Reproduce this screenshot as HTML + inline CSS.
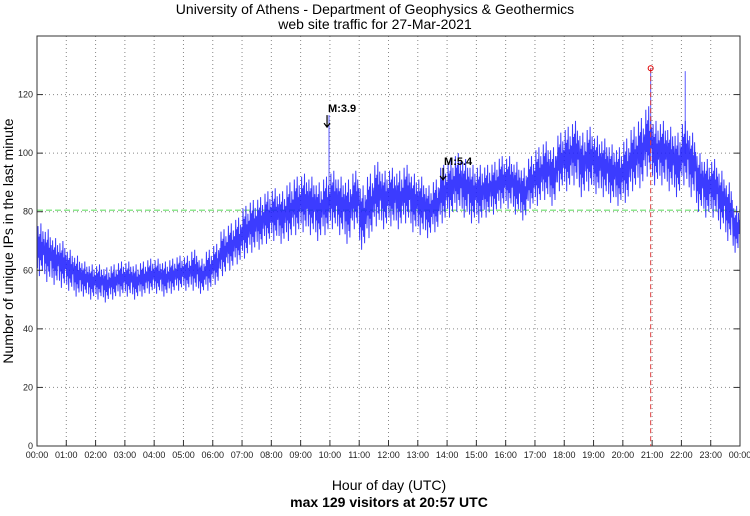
<!DOCTYPE html>
<html><head><meta charset="utf-8"><style>
body{margin:0;background:#fff;width:750px;height:511px;overflow:hidden;font-family:"Liberation Sans",sans-serif}
</style></head><body>
<svg id="chart" width="750" height="511" xmlns="http://www.w3.org/2000/svg" font-family="Liberation Sans, sans-serif">
<text x="375" y="14" text-anchor="middle" font-size="14">University of Athens - Department of Geophysics &amp; Geothermics</text>
<text x="375" y="29" text-anchor="middle" font-size="14">web site traffic for 27-Mar-2021</text>
<text transform="translate(13,241) rotate(-90)" text-anchor="middle" font-size="14">Number of unique IPs in the last minute</text>
<text x="389" y="490" text-anchor="middle" font-size="14">Hour of day (UTC)</text>
<text x="389" y="507" text-anchor="middle" font-size="14" font-weight="bold">max 129 visitors at 20:57 UTC</text>
<g id="grid"></g><g id="series"></g><g id="axes"></g><g id="marks"></g>
</svg>
<script>
const hours=["00:00","01:00","02:00","03:00","04:00","05:00","06:00","07:00","08:00","09:00","10:00","11:00","12:00","13:00","14:00","15:00","16:00","17:00","18:00","19:00","20:00","21:00","22:00","23:00","00:00"];
const yTicks=[0,20,40,60,80,100,120];
const quarterMeans=[67,65,63,62,60,58,57,56,56,55,56,57,57,56,57,58,58,57,58,59,59,60,58,60,62,66,68,70,73,75,76,78,79,78,80,82,83,82,80,82,84,82,80,84,78,82,86,84,85,84,86,83,82,80,82,86,88,90,88,86,86,87,88,90,90,88,86,90,92,94,92,97,98,100,96,98,96,95,93,92,94,98,100,104,100,100,98,96,100,96,90,88,88,84,80,74];
const quarterSpread=[9,9,8,8,7,7,6,6,6,6,6,6,6,6,6,6,6,6,6,6,6,7,6,7,7,8,8,8,9,9,9,9,9,9,10,10,10,10,10,10,10,10,11,10,11,11,11,10,10,10,10,10,10,9,9,10,10,10,10,10,10,9,9,9,9,9,9,9,10,10,10,10,11,11,11,11,10,10,10,10,11,11,12,12,11,11,11,11,11,11,10,10,10,10,10,8];
const spikeHours=[0.0,9.97,20.95,22.13];
const spikeValues=[84,113,129,128];
const quakeHours=[9.97,13.93];
const quakeLabels=["M:3.9","M:5.4"];
const quakeValues=[114,96];
const avgValue=80.5;
const maxHour=20.95, maxValue=129;

const NS="http://www.w3.org/2000/svg";
const L=37,R=740,T=36,B=446,YMAX=140;
const xs=h=>L+h/24*(R-L);
const ys=v=>B-v/YMAX*(B-T);
function mk(tag,attrs,parent){const e=document.createElementNS(NS,tag);for(const k in attrs)e.setAttribute(k,attrs[k]);parent.appendChild(e);return e;}
const grid=document.getElementById('grid'),axes=document.getElementById('axes'),series=document.getElementById('series'),marks=document.getElementById('marks');
hours.forEach((lab,i)=>{const x=xs(i);
 if(i>0&&i<24){const g=mk('line',{x1:x,x2:x,y1:T,y2:B,stroke:'#888','stroke-dasharray':'1,3','stroke-width':1},grid);}
 const tk=mk('line',{x1:x,x2:x,y1:B,y2:B-6,stroke:'#333'},axes);
 const t=mk('text',{x:x,y:B+12,'text-anchor':'middle','font-size':9,fill:'#222'},axes);t.textContent=lab;
 
 
});
yTicks.forEach(v=>{const y=ys(v);
 if(v>0){const g=mk('line',{x1:L,x2:R,y1:y,y2:y,stroke:'#888','stroke-dasharray':'1,3'},grid);}
 mk('line',{x1:L,x2:L+6,y1:y,y2:y,stroke:'#333'},axes);mk('line',{x1:R,x2:R-6,y1:y,y2:y,stroke:'#333'},axes);
 const t=mk('text',{x:L-4,y:y+3,'text-anchor':'end','font-size':9,fill:'#222'},axes);t.textContent=v;
 
 
});
const fr=mk('rect',{x:L,y:T,width:R-L,height:B-T,fill:'none',stroke:'#333'},axes);


const av=mk('line',{x1:L,x2:R,y1:ys(avgValue),y2:ys(avgValue),stroke:'#8fe88f','stroke-width':1.5,'stroke-dasharray':'6,3'},grid);


const shape=[0.2,-0.7,0.9,-0.3,0.5,-1,0.6,-0.4,1,-0.6,0.3,-0.8,0.7,-0.2,0.4];
let pts=[];
quarterMeans.forEach((m,i)=>{const s=quarterSpread[i];
 shape.forEach((f,j)=>{const h=(i*15+j)/60;let v=m+f*s;
  pts.push(xs(h).toFixed(1)+','+ys(v).toFixed(1));});
});
const p1=mk('polyline',{points:pts.join(' '),fill:'none',stroke:'#1a1aff','stroke-width':1,'stroke-opacity':0.85},series);


spikeHours.forEach((sh,k)=>{const q=Math.min(95,Math.floor(sh*4));const sp=mk('line',{x1:xs(sh),x2:xs(sh),y1:ys(quarterMeans[q]),y2:ys(spikeValues[k]),stroke:'#3030ff','stroke-opacity':0.8},series);
 
 });
const ml=mk('line',{x1:xs(maxHour),x2:xs(maxHour),y1:ys(maxValue),y2:B,stroke:'#e04040','stroke-dasharray':'5,3'},marks);


const mc=mk('circle',{cx:xs(maxHour),cy:ys(maxValue),r:2.5,fill:'none',stroke:'#e00000'},marks);


quakeHours.forEach((h,i)=>{const x=xs(h)-2,y=ys(quakeValues[i]);
 const a=mk('path',{d:`M${x},${y+3}V${y+15}M${x-3},${y+11}L${x},${y+15}L${x+3},${y+11}`,fill:'none',stroke:'#000','stroke-width':1.2},marks);
 
 
 const t=mk('text',{x:x+1,y:y,'font-size':11,'font-weight':'bold'},marks);t.textContent=quakeLabels[i];
 
 
});
</script>
</body></html>
